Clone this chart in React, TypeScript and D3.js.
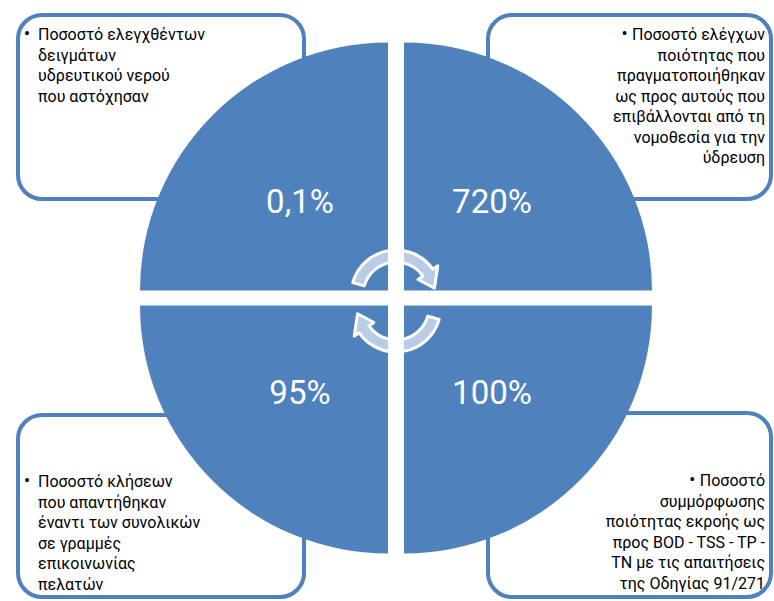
import * as d3 from "d3";
import React from "react";

// values shown inside the four quadrants (TL, TR, BR, BL)
const values = ["0,1%", "720%", "100%", "95%"];

// text of the four corner boxes, line by line
const labelTL = ["Ποσοστό ελεγχθέντων", "δειγμάτων", "υδρευτικού νερού", "που αστόχησαν"];
const labelTR = [
  "Ποσοστό ελέγχων",
  "ποιότητας που",
  "πραγματοποιήθηκαν",
  "ως προς αυτούς που",
  "επιβάλλονται από τη",
  "νομοθεσία για την",
  "ύδρευση",
];
const labelBR = [
  "Ποσοστό",
  "συμμόρφωσης",
  "ποιότητας εκροής ως",
  "προς BOD - TSS - TP -",
  "TN  με τις απαιτήσεις",
  "της Οδηγίας 91/271",
];
const labelBL = [
  "Ποσοστό κλήσεων",
  "που απαντήθηκαν",
  "έναντι των συνολικών",
  "σε γραμμές",
  "επικοινωνίας",
  "πελατών",
];

const BLUE = "#4F81BD";
const FONT = "Roboto, 'Noto Sans', sans-serif";
const W = 774;
const H = 601;
const cx = 396;
const cy = 298;
const gx = 8;
const gy = 7.5;
const R = 248;

const arc = d3.arc<any>().innerRadius(0).outerRadius(R);

const quads = [
  { dx: -gx, dy: -gy, a0: -Math.PI / 2, a1: 0 },
  { dx: gx, dy: -gy, a0: 0, a1: Math.PI / 2 },
  { dx: gx, dy: gy, a0: Math.PI / 2, a1: Math.PI },
  { dx: -gx, dy: gy, a0: Math.PI, a1: (3 * Math.PI) / 2 },
];
const valuePos = [
  [300, 213],
  [492, 213],
  [492, 404],
  [300, 404],
];

// circular arrow (angles in screen degrees, clockwise)
function arrowPath(ax: number, ay: number, ro: number, ri: number, a0: number, a1: number, tip: number) {
  const rad = (a: number) => (a * Math.PI) / 180;
  const pt = (r: number, a: number) => [ax + r * Math.cos(rad(a)), ay + r * Math.sin(rad(a))];
  const p = d3.path();
  const o0 = pt(ro, a0);
  p.moveTo(o0[0], o0[1]);
  p.arc(ax, ay, ro, rad(a0), rad(a1), false);
  const h1 = pt(ro + 6, a1);
  const t = pt((ro + ri) / 2, tip);
  const h2 = pt(ri - 6, a1);
  const i1 = pt(ri, a1);
  p.lineTo(h1[0], h1[1]);
  p.lineTo(t[0], t[1]);
  p.lineTo(h2[0], h2[1]);
  p.lineTo(i1[0], i1[1]);
  p.arc(ax, ay, ri, rad(a1), rad(a0), true);
  p.closePath();
  return p.toString();
}

const boxes = [
  { x: 18, y: 15, w: 286, h: 184 },
  { x: 488, y: 15, w: 283, h: 184 },
  { x: 488, y: 413, w: 283, h: 184 },
  { x: 18, y: 415, w: 286, h: 182 },
];

const lineH = 20.5;

function LeftText({ lines, y0 }: { lines: string[]; y0: number }) {
  return (
    <g fontFamily={FONT} fontSize={16} fill="#000" style={{ whiteSpace: "pre" }}>
      <text x={24} y={y0} fontSize={18}>•</text>
      {lines.map((l, i) => (
        <text key={i} x={38} y={y0 + i * lineH}>{l}</text>
      ))}
    </g>
  );
}

function RightText({ lines, y0 }: { lines: string[]; y0: number }) {
  return (
    <g fontFamily={FONT} fontSize={16} fill="#000" textAnchor="end" style={{ whiteSpace: "pre" }}>
      {lines.map((l, i) => (
        <text key={i} x={765} y={y0 + i * lineH}>
          {i === 0 ? <tspan fontSize={18}>• </tspan> : null}
          {l}
        </text>
      ))}
    </g>
  );
}

export default function App() {
  return (
    <div style={{ position: "absolute", left: 0, top: 0 }}>
      <svg width={W} height={H} style={{ display: "block", background: "#fff" }}>
        {boxes.map((b, i) => (
          <rect key={i} x={b.x} y={b.y} width={b.w} height={b.h} rx={24} ry={24}
            fill="#fff" stroke={BLUE} strokeWidth={4} />
        ))}
        <LeftText lines={labelTL} y0={40} />
        <RightText lines={labelTR} y0={40} />
        <RightText lines={labelBR} y0={486} />
        <LeftText lines={labelBL} y0={487} />

        {quads.map((q, i) => (
          <path key={i} transform={`translate(${cx + q.dx},${cy + q.dy})`}
            d={arc({ startAngle: q.a0, endAngle: q.a1 }) || ""} fill={BLUE} />
        ))}

        <path d={arrowPath(396, 295, 45, 33, 196, 325, 350)}
          fill="rgba(255,255,255,0.6)" stroke="#fff" strokeWidth={3} strokeLinejoin="round" />
        <path d={arrowPath(396, 307, 45, 33, 16, 145, 170)}
          fill="rgba(255,255,255,0.6)" stroke="#fff" strokeWidth={3} strokeLinejoin="round" />

        {values.map((v, i) => (
          <text key={i} x={valuePos[i][0]} y={valuePos[i][1]} textAnchor="middle"
            fontFamily={FONT} fontSize={33} fill="#fff">{v}</text>
        ))}
      </svg>
    </div>
  );
}
